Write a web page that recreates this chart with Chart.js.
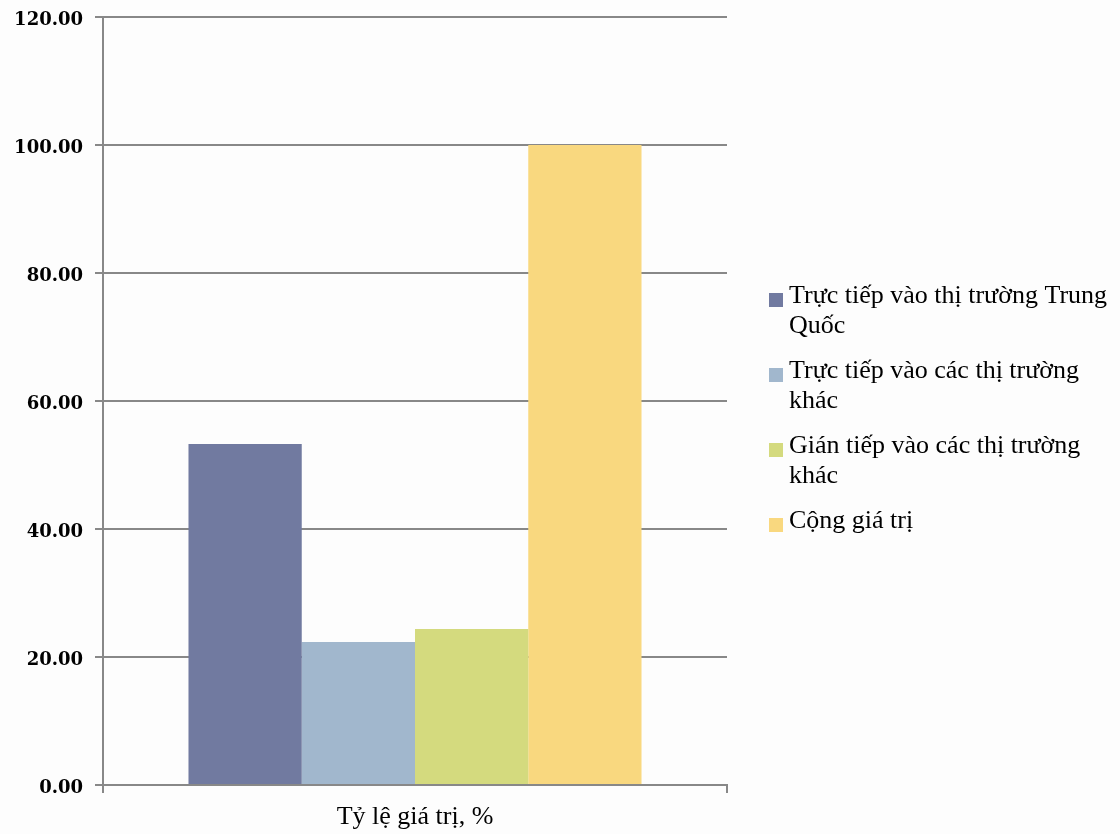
<!DOCTYPE html>
<html>
<head>
<meta charset="utf-8">
<script src="https://cdn.jsdelivr.net/npm/chart.js@4.4.0/dist/chart.umd.min.js"></script>
<style>
html,body{margin:0;padding:0;background:#fdfdfd;}
#wrap{width:1120px;height:834px;}
</style>
</head>
<body>
<div id="wrap"><canvas id="c" width="1120" height="834"></canvas></div>
<script>
const categories = ["Tỷ lệ giá trị, %"];
const seriesNames = [
  "Trực tiếp vào thị trường Trung Quốc",
  "Trực tiếp vào các thị trường khác",
  "Gián tiếp vào các thị trường khác",
  "Cộng giá trị"
];
const seriesValues = [
  [53.28],
  [22.34],
  [24.38],
  [100.00]
];
const seriesColors = ["#717aa0", "#a1b7cd", "#d4da7e", "#f9d87f"];
const yTicks = [0, 20, 40, 60, 80, 100, 120];

const serif = "'Liberation Serif', 'Times New Roman', serif";

const bgPlugin = {
  id: 'bg',
  beforeDraw(chart) {
    const ctx = chart.ctx;
    ctx.save();
    ctx.fillStyle = '#fdfdfd';
    ctx.fillRect(0, 0, chart.width, chart.height);
    ctx.restore();
  }
};

const legendPlugin = {
  id: 'wrapLegend',
  afterDraw(chart) {
    const ctx = chart.ctx;
    ctx.save();
    ctx.font = "26px " + serif;
    ctx.textBaseline = 'alphabetic';
    ctx.textAlign = 'left';
    const boxX = 769, textX = 789, maxW = 1120 - textX - 1;
    const lineH = 30, gap = 15;
    let baseline = 303;
    chart.data.datasets.forEach((ds) => {
      const words = ds.label.split(' ');
      const lines = [];
      let cur = '';
      words.forEach(w => {
        const t = cur ? cur + ' ' + w : w;
        if (ctx.measureText(t).width > maxW && cur) { lines.push(cur); cur = w; }
        else cur = t;
      });
      if (cur) lines.push(cur);
      ctx.fillStyle = ds.backgroundColor;
      ctx.fillRect(boxX, baseline - 10, 14, 14);
      ctx.fillStyle = '#000';
      lines.forEach((ln, i) => ctx.fillText(ln, textX, baseline + i * lineH));
      baseline += lines.length * lineH + gap;
    });
    ctx.restore();
  }
};

new Chart(document.getElementById('c'), {
  type: 'bar',
  data: {
    labels: categories,
    datasets: seriesNames.map((n, i) => ({
      label: n,
      data: seriesValues[i],
      backgroundColor: seriesColors[i],
      borderWidth: 0,
      categoryPercentage: 0.726,
      barPercentage: 1.0
    }))
  },
  options: {
    responsive: false,
    animation: false,
    layout: { padding: { top: 17, right: 393, bottom: 0, left: 0 } },
    plugins: {
      legend: { display: false },
      tooltip: { enabled: false }
    },
    scales: {
      x: {
        offset: true,
        grid: {
          offset: true,
          drawOnChartArea: false,
          drawTicks: true,
          tickLength: 8,
          color: '#888888',
          lineWidth: 2
        },
        border: { display: true, color: '#888888', width: 2 },
        ticks: {
          color: '#000',
          font: { family: serif, size: 26 },
          padding: 9
        },
        afterFit(scale) { scale.height = 49; scale.paddingLeft = 0; scale.paddingRight = 0; }
      },
      y: {
        min: 0,
        max: 120,
        afterBuildTicks(scale) { scale.ticks = yTicks.map(v => ({ value: v })); },
        grid: {
          color: '#888888',
          lineWidth: 2,
          drawTicks: true,
          tickLength: 8
        },
        border: { display: true, color: '#888888', width: 2 },
        ticks: {
          color: '#000',
          font: { family: "'DejaVu Serif', serif", size: 18, weight: 'bold' },
          padding: 12,
          labelOffset: 3,
          callback: v => Number(v).toFixed(2)
        },
        afterFit(scale) { scale.width = 103; scale.paddingTop = 0; scale.paddingBottom = 0; }
      }
    }
  },
  plugins: [bgPlugin, legendPlugin]
});
</script>
</body>
</html>
